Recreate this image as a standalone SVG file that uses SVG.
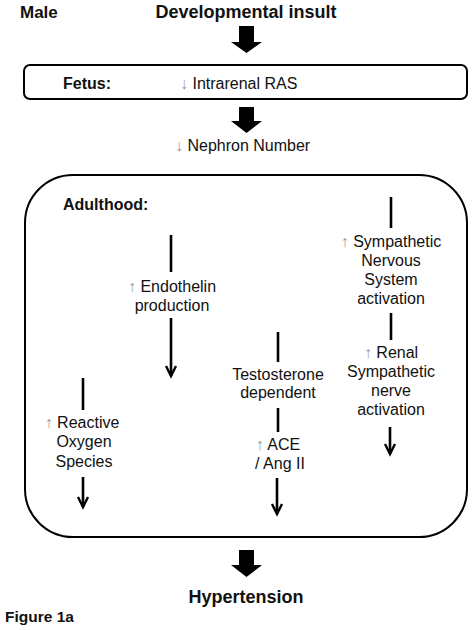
<svg xmlns="http://www.w3.org/2000/svg" width="472" height="630" viewBox="0 0 472 630">
<defs>
<style>
text{font-family:"Liberation Sans",Arial,sans-serif;fill:#111;}
.b{font-weight:bold;}
.t{font-size:16px;text-anchor:middle;}
.g{fill:#999;}
.ln{stroke:#000;stroke-width:2.6;fill:none;}
.hd{stroke:#000;stroke-width:2.4;fill:none;}
.blk{fill:#000;}
.box{fill:#fff;stroke:#000;stroke-width:2;}
</style>
</defs>
<rect width="472" height="630" fill="#fff"/>
<g id="title">
<text x="20" y="18" class="b" font-size="17">Male</text>
<text x="246" y="18" class="b" font-size="18" text-anchor="middle">Developmental insult</text>
</g>
<g id="fetus">
<rect class="box" x="24" y="65" width="443" height="34" rx="6"/>
<text x="63" y="89" class="b" font-size="16">Fetus:</text>
<text x="180" y="89" font-size="16"><tspan class="g">↓</tspan> Intrarenal RAS</text>
</g>
<g id="nephron">
<text x="175" y="151" font-size="16"><tspan class="g">↓</tspan> Nephron Number</text>
</g>
<g id="adulthood">
<rect class="box" x="25" y="175" width="442" height="362" rx="48"/>
<text x="63" y="210" class="b" font-size="16">Adulthood:</text>
</g>
<g id="endothelin">
<text class="t" x="172" y="292"><tspan class="g">↑</tspan> Endothelin</text>
<text class="t" x="172" y="311">production</text>
</g>
<g id="sympathetic">
<text class="t" x="391" y="247"><tspan class="g">↑</tspan> Sympathetic</text>
<text class="t" x="391" y="266">Nervous</text>
<text class="t" x="391" y="285">System</text>
<text class="t" x="391" y="304">activation</text>
</g>
<g id="renal">
<text class="t" x="391" y="358"><tspan class="g">↑</tspan> Renal</text>
<text class="t" x="391" y="377">Sympathetic</text>
<text class="t" x="391" y="396">nerve</text>
<text class="t" x="391" y="415">activation</text>
</g>
<g id="testosterone">
<text class="t" x="278" y="380">Testosterone</text>
<text class="t" x="278" y="398">dependent</text>
</g>
<g id="ace">
<text class="t" x="278" y="450"><tspan class="g">↑</tspan> ACE</text>
<text class="t" x="280" y="469">/ Ang II</text>
</g>
<g id="ros">
<text class="t" x="82" y="428"><tspan class="g">↑</tspan> Reactive</text>
<text class="t" x="84" y="447">Oxygen</text>
<text class="t" x="84" y="467">Species</text>
</g>
<g id="hypertension">
<text x="246" y="603" class="b" font-size="18" text-anchor="middle">Hypertension</text>
</g>
<g id="caption">
<text x="5" y="622" class="b" font-size="15.5">Figure 1a</text>
</g>
<g id="connectors">
<path class="blk" d="M239,26 H254 V42 H262 L246.5,53 L231,42 H239 Z"/>
<path class="blk" d="M239,107 H254 V121 H262 L246.5,133 L231,121 H239 Z"/>
<path class="blk" d="M239,550 H254 V565 H262 L246.5,577 L231,565 H239 Z"/>
<line class="ln" x1="171" y1="235" x2="171" y2="272"/>
<line class="ln" x1="171" y1="318" x2="171" y2="376"/>
<path class="hd" d="M166,366 L171,376 L176,366"/>
<line class="ln" x1="391" y1="197" x2="391" y2="228"/>
<line class="ln" x1="391" y1="313" x2="391" y2="340"/>
<line class="ln" x1="390" y1="427" x2="390" y2="454"/>
<path class="hd" d="M385,444 L390,454 L395,444"/>
<line class="ln" x1="278" y1="332" x2="278" y2="362"/>
<line class="ln" x1="278" y1="408" x2="278" y2="432"/>
<line class="ln" x1="277" y1="478" x2="277" y2="514"/>
<path class="hd" d="M272,504 L277,514 L282,504"/>
<line class="ln" x1="83" y1="378" x2="83" y2="410"/>
<line class="ln" x1="83" y1="477" x2="83" y2="507"/>
<path class="hd" d="M78,497 L83,507 L88,497"/>
</g>
</svg>
